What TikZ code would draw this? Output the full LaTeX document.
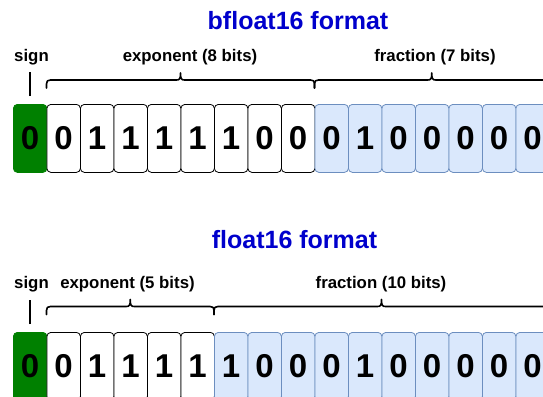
\documentclass[tikz,border=0pt]{standalone}
\usepackage{fontspec}
\setmainfont{Liberation Sans}
\usetikzlibrary{calc}
\definecolor{titleblue}{HTML}{0000CC}
\definecolor{signgreen}{HTML}{008000}
\definecolor{fracfill}{HTML}{DAE8FC}
\definecolor{fracline}{HTML}{6C8EBF}
\tikzset{
  bitcell/.style={minimum width=33.5pt, minimum height=68pt, inner sep=0pt, rounded corners=4pt, line width=0.8pt,
    font=\fontsize{33}{33}\selectfont\bfseries, anchor=north west},
  signbit/.style={bitcell, fill=signgreen, draw=signgreen},
  expbit/.style={bitcell, fill=white, draw=black},
  fracbit/.style={bitcell, fill=fracfill, draw=fracline},
  titletext/.style={font=\fontsize{25}{25}\selectfont\bfseries, text=titleblue, inner sep=0pt},
  labeltext/.style={font=\fontsize{16.8}{16.8}\selectfont\bfseries, inner sep=0pt},
  bracestyle/.style={line width=1.6pt, line cap=round, line join=round},
  tickline/.style={line width=1.6pt}
}
% \bitbrace{x1}{x2}{y of line}
\newcommand{\bitbrace}[3]{%
  \pgfmathsetmacro{\bxm}{(#1+#2)/2}%
  \draw[bracestyle] (#1,#3+8) -- (#1,#3+4) .. controls (#1,#3+1) and (#1+1,#3) .. (#1+4,#3)
    -- (\bxm-4,#3) .. controls (\bxm-1,#3) and (\bxm,#3-1) .. (\bxm,#3-7)
    .. controls (\bxm,#3-1) and (\bxm+1,#3) .. (\bxm+4,#3)
    -- (#2-4,#3) .. controls (#2-1,#3) and (#2,#3+1) .. (#2,#3+4) -- (#2,#3+8);}
\begin{document}
\begin{tikzpicture}[x=1pt,y=-1pt]
\useasboundingbox (0,0) rectangle (543,396);
% ---------- bfloat16 ----------
\node[titletext] (t1) at (298,21) {bfloat16 format};
\node[labeltext] (s1) at (31.5,57) {sign};
\node[labeltext] (e1) at (190,57) {exponent (8 bits)};
\node[labeltext] (f1) at (435,57) {fraction (7 bits)};
\foreach \b [count=\i from 0] in {0,0,1,1,1,1,1,0,0,0,1,0,0,0,0,0} {
  \ifnum\i=0 \def\st{signbit}\else\ifnum\i<9 \def\st{expbit}\else\def\st{fracbit}\fi\fi
  \node[\st] (a\i) at (13+33.5*\i,104) {\raisebox{-1.5pt}{\b}};
}
\coordinate (ts1) at ($(a0.north)+(0,-8)$);
\coordinate (tt1) at ($(a0.north)+(0,-32)$);
\draw[tickline] (ts1) -- (tt1);
\bitbrace{46.5}{314.5}{80}
\bitbrace{314.5}{549}{80}
% ---------- float16 ----------
\node[titletext] (t2) at (294.5,240) {float16 format};
\node[labeltext] (s2) at (31.5,284) {sign};
\node[labeltext] (e2) at (127.5,284) {exponent (5 bits)};
\node[labeltext] (f2) at (381,284) {fraction (10 bits)};
\foreach \b [count=\i from 0] in {0,0,1,1,1,1,1,0,0,0,1,0,0,0,0,0} {
  \ifnum\i=0 \def\st{signbit}\else\ifnum\i<6 \def\st{expbit}\else\def\st{fracbit}\fi\fi
  \node[\st] (b\i) at (13+33.5*\i,332) {\raisebox{-1.5pt}{\b}};
}
\coordinate (ts2) at ($(b0.north)+(0,-8)$);
\coordinate (tt2) at ($(b0.north)+(0,-32)$);
\draw[tickline] (ts2) -- (tt2);
\bitbrace{46.5}{214}{306.5}
\bitbrace{214}{549}{306.5}
\end{tikzpicture}
\end{document}
